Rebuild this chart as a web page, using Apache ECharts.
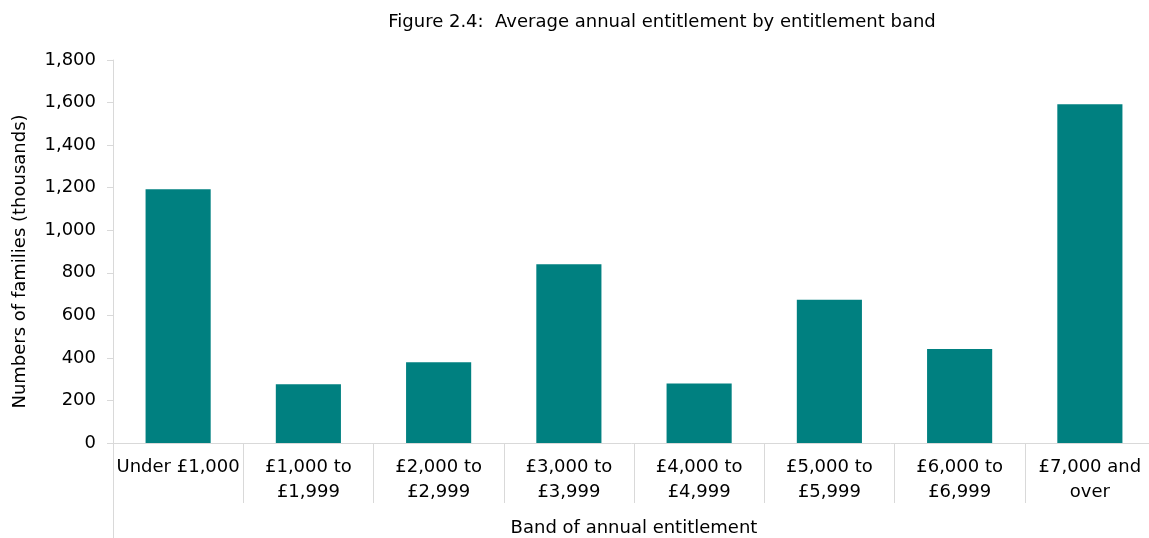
<!DOCTYPE html>
<html>
<head>
<meta charset="utf-8">
<script src="https://cdn.jsdelivr.net/npm/echarts@6/dist/echarts.min.js"></script>
<style>
  html, body { margin: 0; padding: 0; background: #fff; }
  #chart { width: 1149px; height: 538px; }
</style>
</head>
<body>
<div id="chart"></div>
<script>
// ---- data ----
const categories = [
    'Under £1,000',
    '£1,000 to\n£1,999',
    '£2,000 to\n£2,999',
    '£3,000 to\n£3,999',
    '£4,000 to\n£4,999',
    '£5,000 to\n£5,999',
    '£6,000 to\n£6,999',
    '£7,000 and\nover'
];
const families = [1192, 276, 379, 840, 280, 673, 442, 1592];
const yTicks = [0, 200, 400, 600, 800, 1000, 1200, 1400, 1600, 1800];

const FONT = 'DejaVu Sans, Liberation Sans, sans-serif';
const FONT_SIZE = 18;
const AXIS_GREY = '#d9d9d9';

const chart = echarts.init(document.getElementById('chart'));

chart.setOption({
    animation: false,
    title: {
        text: 'Figure 2.4:  Average annual entitlement by entitlement band',
        left: 657,
        top: 8,
        textAlign: 'center',
        textStyle: { fontFamily: FONT, fontSize: FONT_SIZE, fontWeight: 'normal', color: '#000' }
    },
    grid: { left: 113, top: 60, width: 1042, height: 383, outerBoundsMode: 'none' },
    xAxis: {
        type: 'category',
        data: categories,
        name: 'Band of annual entitlement',
        nameLocation: 'middle',
        nameGap: 76,
        nameTextStyle: { fontFamily: FONT, fontSize: FONT_SIZE, color: '#000' },
        axisLine: { lineStyle: { color: AXIS_GREY, width: 1 } },
        axisTick: { show: true, length: 60, lineStyle: { color: AXIS_GREY } },
        axisLabel: {
            interval: 0,
            margin: 12,
            fontFamily: FONT,
            fontSize: FONT_SIZE,
            lineHeight: 25,
            color: '#000'
        }
    },
    yAxis: {
        type: 'value',
        min: yTicks[0],
        max: yTicks[yTicks.length - 1],
        interval: 200,
        name: 'Numbers of families (thousands)',
        nameLocation: 'middle',
        nameGap: 84,
        nameTextStyle: { fontFamily: FONT, fontSize: FONT_SIZE, color: '#000', padding: [0, 20, 0, 0] },
        axisLine: { show: true, lineStyle: { color: AXIS_GREY, width: 1 } },
        axisTick: { show: true, length: 6, lineStyle: { color: AXIS_GREY } },
        splitLine: { show: false },
        axisLabel: {
            margin: 17,
            fontFamily: FONT,
            fontSize: FONT_SIZE,
            color: '#000',
            formatter: v => v.toLocaleString('en-GB')
        }
    },
    // left axis line continues down past the category labels
    graphic: [{
        type: 'line',
        shape: { x1: 113.5, y1: 443, x2: 113.5, y2: 538 },
        style: { stroke: AXIS_GREY, lineWidth: 1 }
    }],
    series: [{
        type: 'bar',
        data: families,
        barWidth: '50%',
        itemStyle: { color: '#008080' }
    }]
});
</script>
</body>
</html>
